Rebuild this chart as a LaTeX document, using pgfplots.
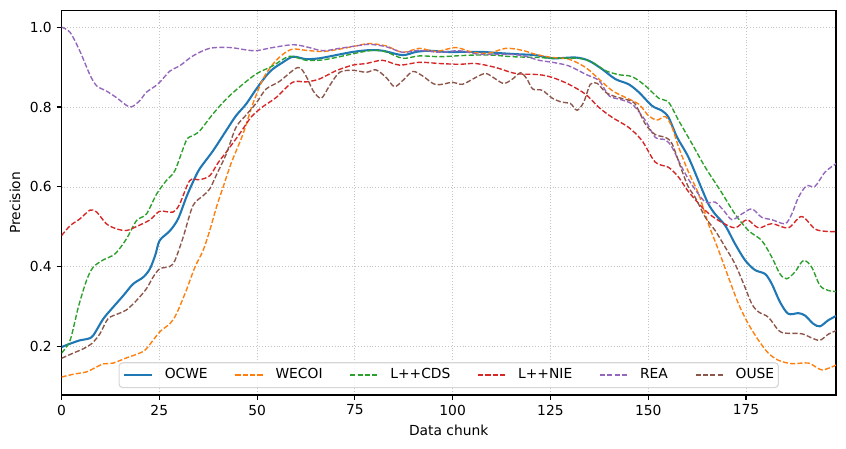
\documentclass[border=0pt]{standalone}
\usepackage{fontspec}
\setmainfont{DejaVu Sans}
\usepackage{pgfplots}
\pgfplotsset{compat=1.18}
\definecolor{c0}{HTML}{1F77B4}
\definecolor{c1}{HTML}{FF7F0E}
\definecolor{c2}{HTML}{2CA02C}
\definecolor{c3}{HTML}{D62728}
\definecolor{c4}{HTML}{9467BD}
\definecolor{c5}{HTML}{8C564B}
\definecolor{gridc}{HTML}{C4C4C4}
\definecolor{legc}{HTML}{D6D6D6}
\pgfplotsset{legend image code/.code={\draw[#1] (0pt,0pt) -- (20pt,0pt);}}
\begin{document}
\begin{tikzpicture}[x=1pt,y=1pt]
\useasboundingbox (0,0) rectangle (611.4,323.8);
\begin{axis}[
  at={(44.45pt,38.3pt)}, anchor=south west,
  scale only axis, width=559.7pt, height=278pt,
  xmin=0, xmax=198, ymin=0.079, ymax=1.042,
  xtick={0,25,50,75,100,125,150,175},
  ytick={0.2,0.4,0.6,0.8,1.0},
  yticklabel style={/pgf/number format/.cd, fixed, fixed zerofill, precision=1},
  /pgf/number format/assume math mode=true,
  tick align=outside, major tick length=3.5pt,
  xtick pos=left, ytick pos=left,
  tick style={black, line width=0.8pt},
  axis line style={line width=0.8pt},
  grid=major,
  grid style={gridc, line width=0.6pt, dash pattern=on 0.7pt off 1.4pt},
  xlabel={Data chunk}, ylabel={Precision},
  tick label style={font=\fontsize{10}{12}\selectfont},
  label style={font=\fontsize{10}{12}\selectfont},
  legend columns=6,
  legend cell align=left,
  legend style={at={(0.5,0.018)}, anchor=south, draw=legc, line width=0.8pt,
    rounded corners=2.5pt, fill=white, fill opacity=0.8, text opacity=1,
    font=\fontsize{10}{12}\selectfont,
    nodes={inner sep=0pt, text height=7.5pt, text depth=2pt},
    inner xsep=3pt, inner ysep=4.2pt,
    /tikz/every odd column/.append style={column sep=8.5pt},
    /tikz/every even column/.append style={column sep=19.5pt}},
]
\addplot[c0, line width=1.5pt, smooth, tension=0.5] coordinates {
(0,0.199) (2.2,0.2075) (4.7,0.216) (6.8,0.22) (8.1,0.228) (10.7,0.27) (13.2,0.299)
(15.8,0.328) (18.3,0.357) (20.9,0.374) (22.6,0.395) (24,0.43) (25.1,0.466) (27.7,0.49)
(29.8,0.52) (31.9,0.574) (33.6,0.612) (35.3,0.645) (38.7,0.69) (42.1,0.741) (44.6,0.778)
(47.2,0.8075) (49.8,0.845) (52.3,0.878) (54,0.895) (56.6,0.912) (59.2,0.926) (62.5,0.92)
(65.9,0.922) (70.2,0.93) (74.5,0.938) (78.7,0.9425) (82.1,0.941) (87.2,0.93) (90.6,0.938)
(94,0.941) (98.3,0.938) (103.4,0.938) (107.6,0.938) (111.9,0.935) (117,0.932) (121.2,0.930)
(125.5,0.922) (131.4,0.924) (134.8,0.916) (138.2,0.895) (141.6,0.87) (145,0.857)
(147.6,0.837) (151,0.803) (153.5,0.791) (155.2,0.774) (157.4,0.724) (160.3,0.674)
(163.7,0.595) (165.4,0.557) (167.1,0.532) (169.7,0.503) (172.2,0.4575) (174.8,0.416)
(177.3,0.392) (179.9,0.382) (181.6,0.357) (183.7,0.3117) (185.8,0.2825) (188.4,0.284)
(190.1,0.278) (192.2,0.2575) (193.9,0.251) (196.0,0.266) (198,0.277)
};
\addlegendentry{OCWE}
\addplot[c1, line width=1pt, dash pattern=on 3.7pt off 1.6pt, smooth, tension=0.5] coordinates {
(0,0.124) (3,0.131) (6.4,0.137) (8.1,0.145) (10.7,0.157) (13.2,0.159) (16.6,0.172)
(20,0.184) (21.7,0.195) (25.1,0.237) (27.7,0.2575) (29.4,0.2825) (31.9,0.341) (34.1,0.399)
(36.2,0.441) (37.9,0.491) (39.6,0.549) (41.3,0.599) (43.4,0.66) (46.4,0.7325) (48.9,0.8075)
(51.5,0.870) (54,0.907) (56.6,0.932) (59.1,0.945) (62.5,0.942) (66.8,0.939) (71.1,0.945)
(75.3,0.953) (78.7,0.959) (83,0.953) (87.2,0.937) (91.5,0.947) (95.7,0.939) (100.8,0.949)
(105.1,0.937) (109.3,0.935) (113.6,0.947) (117.8,0.942) (121.2,0.932) (125.5,0.924)
(129.7,0.92) (134,0.899) (137.4,0.87) (140.8,0.841) (144.2,0.824) (147.6,0.807)
(150.1,0.778) (152.3,0.7675) (154.4,0.776) (156.1,0.749) (157.8,0.699) (160.3,0.637)
(162.9,0.582) (165.4,0.507) (168,0.441) (170.5,0.374) (173.1,0.307) (175.6,0.257)
(178.2,0.216) (180.7,0.184) (183.3,0.166) (186.7,0.1575) (191,0.159) (194.4,0.142) (198,0.154)
};
\addlegendentry{WECOI}
\addplot[c2, line width=1pt, dash pattern=on 3.7pt off 1.6pt, smooth, tension=0.5] coordinates {
(0,0.184) (2.2,0.216) (4.3,0.299) (6.4,0.366) (8.1,0.399) (10.7,0.4175) (13.7,0.4325)
(16.6,0.47) (19.2,0.516) (21.7,0.532) (24.3,0.582) (26.8,0.616) (29,0.641) (31.9,0.716)
(33.5,0.728) (35.3,0.74) (38.7,0.7825) (42.1,0.82) (45.5,0.85) (49.8,0.883) (54,0.903)
(58.3,0.927) (62.5,0.917) (66.8,0.918) (71.1,0.926) (75.3,0.935) (79.6,0.942) (83,0.938)
(87.2,0.922) (91.5,0.928) (96.6,0.926) (100.8,0.928) (105.1,0.93) (110.2,0.93) (115.3,0.926)
(122.1,0.924) (125.5,0.922) (132.3,0.922) (135.7,0.912) (139.1,0.891) (142.5,0.881)
(145.9,0.876) (149.3,0.853) (152.7,0.822) (155.2,0.812) (157.8,0.766) (161.2,0.708)
(164.6,0.649) (168.5,0.59) (172.2,0.532) (175.6,0.491) (179,0.466) (181.6,0.424)
(183.7,0.382) (185.4,0.37) (187.5,0.387) (189.7,0.416) (191.8,0.399) (193.9,0.353)
(196.0,0.341) (198,0.338)
};
\addlegendentry{L++CDS}
\addplot[c3, line width=1pt, dash pattern=on 3.7pt off 1.6pt, smooth, tension=0.5] coordinates {
(0,0.478) (2.2,0.503) (4.7,0.52) (7.3,0.542) (9,0.537) (11.5,0.5075) (14.1,0.495)
(16.6,0.491) (19.2,0.501) (22.6,0.5175) (25.1,0.539) (28.5,0.537) (30.2,0.557) (32.8,0.616)
(35.3,0.618) (37.9,0.628) (40,0.66) (42.1,0.687) (45.5,0.7325) (48.5,0.775) (51.5,0.801)
(54.9,0.824) (59.1,0.862) (62.5,0.863) (65.9,0.87) (70.2,0.891) (74.5,0.905) (77.9,0.909)
(82.1,0.917) (86.4,0.905) (91.5,0.912) (96.6,0.909) (101.7,0.907) (105.9,0.909) (111,0.899)
(116.1,0.884) (122.1,0.881) (125.5,0.874) (129.7,0.857) (134,0.832) (137.4,0.799)
(140.8,0.774) (145,0.749) (148.4,0.716) (151.8,0.662) (155.2,0.649) (157.8,0.624)
(160.3,0.588) (164.6,0.541) (168,0.516) (172.2,0.4975) (175.2,0.518) (178.2,0.4975)
(181.6,0.508) (185.8,0.4975) (189.2,0.526) (192.6,0.495) (195.2,0.489) (198,0.488)
};
\addlegendentry{L++NIE}
\addplot[c4, line width=1pt, dash pattern=on 3.7pt off 1.6pt, smooth, tension=0.5] coordinates {
(0,1.0) (2.2,0.987) (4.7,0.94) (7.3,0.88) (9,0.853) (11.5,0.84) (14,0.824) (17.5,0.80)
(20,0.816) (21.7,0.837) (24.7,0.858) (27.7,0.89) (30.2,0.903) (33.6,0.928) (37.9,0.947)
(43,0.949) (47.2,0.943) (49.8,0.941) (54,0.949) (59.1,0.956) (62.5,0.951) (66.8,0.941)
(71.1,0.947) (75.3,0.953) (78.7,0.957) (83,0.951) (87.2,0.937) (91.5,0.942) (96.6,0.937)
(101.7,0.941) (106.8,0.932) (113.6,0.932) (117.8,0.929) (122.1,0.917) (125.5,0.912)
(129.7,0.903) (134,0.882) (137.4,0.866) (140,0.828) (142.5,0.82) (145.9,0.807)
(149.3,0.766) (151.8,0.724) (154.4,0.718) (156.1,0.699) (158.6,0.649) (161.2,0.605)
(164.6,0.562) (167.1,0.562) (169.3,0.541) (171.4,0.518) (173.9,0.532) (176.5,0.545)
(179,0.524) (181.6,0.518) (185,0.508) (186.7,0.532) (188.4,0.574) (190.5,0.603)
(192.6,0.601) (195.2,0.637) (198,0.658)
};
\addlegendentry{REA}
\addplot[c5, line width=1pt, dash pattern=on 3.7pt off 1.6pt, smooth, tension=0.5] coordinates {
(0,0.171) (3,0.184) (5.6,0.195) (7.7,0.2075) (9.8,0.232) (11.9,0.27) (14.5,0.2825)
(16.6,0.292) (19.2,0.316) (21.7,0.345) (23.4,0.374) (25.1,0.395) (27.7,0.401) (29,0.416)
(31.1,0.474) (33.6,0.553) (36.2,0.578) (37.9,0.595) (39.6,0.630) (42.1,0.682) (44.6,0.749)
(47.2,0.78) (49.8,0.81) (52.3,0.845) (55.7,0.864) (60.4,0.899) (62.5,0.878) (64.3,0.841)
(66.4,0.822) (68.5,0.853) (71.1,0.887) (74.5,0.892) (77.9,0.887) (80.4,0.893) (83,0.874)
(85.1,0.851) (87.2,0.866) (89.8,0.889) (92.3,0.878) (95.7,0.856) (100,0.862) (102.5,0.857)
(105.9,0.874) (108.5,0.884) (111,0.87) (113.1,0.859) (115.3,0.87) (117.4,0.886) (119,0.87)
(120.5,0.845) (122.9,0.842) (125.5,0.822) (128,0.812) (130.1,0.809) (131.8,0.792)
(133.5,0.812) (135.2,0.857) (137,0.859) (139.1,0.837) (141.6,0.826) (145,0.817)
(146.7,0.807) (149.3,0.757) (151.8,0.731) (154.4,0.724) (156.1,0.708) (158.6,0.641)
(160.3,0.599) (162,0.574) (164.6,0.524) (167.1,0.491) (169.7,0.449) (172.2,0.407)
(174.4,0.357) (176.5,0.307) (178.2,0.287) (180.7,0.274) (183.3,0.241) (185,0.234)
(189.2,0.2325) (191.8,0.222) (193.9,0.216) (196,0.231) (198,0.24)
};
\addlegendentry{OUSE}
\end{axis}
\end{tikzpicture}
\end{document}
